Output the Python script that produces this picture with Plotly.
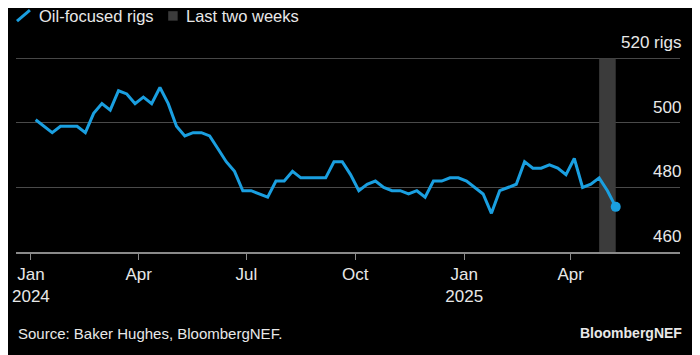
import pandas as pd
import plotly.graph_objects as go

# ---- data ----
dates = pd.date_range("2024-01-05", "2025-05-09", freq="7D")
oil_rigs = [
    501, 499, 497, 499,            # Jan 2024
    499, 499, 497, 503,            # Feb
    506, 504, 510, 509, 506,       # Mar
    508, 506, 511, 506,            # Apr
    499, 496, 497, 497, 496,       # May
    492, 488, 485, 479,            # Jun
    479, 478, 477, 482,            # Jul
    482, 485, 483, 483, 483,       # Aug
    483, 488, 488, 484,            # Sep
    479, 481, 482, 480,            # Oct
    479, 479, 478, 479, 477,       # Nov
    482, 482, 483, 483,            # Dec
    482, 480, 478, 472, 479,       # Jan 2025
    480, 481, 488, 486,            # Feb
    486, 487, 486, 484,            # Mar
    489, 480, 481, 483,            # Apr
    479, 474,                      # May
]
tick_dates = ["2024-01-01", "2024-04-01", "2024-07-01", "2024-10-01", "2025-01-01", "2025-04-01"]
tick_text = ["Jan<br>2024", "Apr", "Jul", "Oct", "Jan<br>2025", "Apr"]
y_ticks = [460, 480, 500, 520]
y_tick_text = ["460", "480", "500", "520 rigs"]
series_name = "Oil-focused rigs"
band_name = "Last two weeks"
source_text = "Source: Baker Hughes, BloombergNEF."
brand_text = "BloombergNEF"

# ---- style ----
BLUE = "#1a9fe0"
BAND = "#3b3b3b"
TEXT = "#e8e8e8"
GRID = "#4a4a4a"
AXIS = "#8a8a8a"
FONT = "Liberation Sans, Arial, Helvetica, sans-serif"

OFF = 8  # default page body margin
W, H = 700 - OFF, 355 - OFF
ML, MR, MT, MB = 12.5 - OFF, 20, 57.5 - OFF, 102.7
PW, PH = W - ML - MR, H - MT - MB


def px(x):  # page pixel -> paper
    return (x - OFF - ML) / PW


def py(y):
    return (H - MB - (y - OFF)) / PH


fig = go.Figure()
fig.add_trace(go.Scatter(
    x=dates, y=oil_rigs, mode="lines", line=dict(color=BLUE, width=3),
    hoverinfo="x+y", showlegend=False,
))
fig.add_trace(go.Scatter(
    x=[dates[-1]], y=[oil_rigs[-1]], mode="markers",
    marker=dict(color=BLUE, size=10), showlegend=False, hoverinfo="skip",
))

shapes = [
    # top gridline
    dict(type="line", xref="paper", yref="y", x0=0, x1=1, y0=y_ticks[-1], y1=y_ticks[-1],
         line=dict(color=GRID, width=1), layer="below"),
    # last two weeks band
    dict(type="rect", xref="x", yref="y", x0=dates[-3], x1=dates[-1], y0=y_ticks[0], y1=y_ticks[-1],
         fillcolor=BAND, line=dict(width=0), layer="between"),
    # legend: line glyph
    dict(type="line", xref="paper", yref="paper", x0=px(13.5), y0=py(20.5), x1=px(26.5), y1=py(9.5),
         line=dict(color=BLUE, width=3)),
    # legend: band glyph
    dict(type="rect", xref="paper", yref="paper", x0=px(165.5), y0=py(20), x1=px(175), y1=py(10.5),
         fillcolor=BAND, line=dict(width=0)),
]

annotations = []
for v, t in zip(y_ticks, y_tick_text):
    annotations.append(dict(
        xref="paper", yref="y", x=1, y=v, xanchor="right", yanchor="bottom",
        text=t, showarrow=False, yshift=4, xshift=3, font=dict(size=17, color=TEXT, family=FONT)))

annotations += [
    dict(xref="paper", yref="paper", x=px(34), y=py(15), xanchor="left", yanchor="middle",
         text=series_name, showarrow=False, font=dict(size=16.5, color=TEXT, family=FONT)),
    dict(xref="paper", yref="paper", x=px(181.5), y=py(15), xanchor="left", yanchor="middle",
         text=band_name, showarrow=False, font=dict(size=16.5, color=TEXT, family=FONT)),
    dict(xref="paper", yref="paper", x=px(12), y=py(334), xanchor="left", yanchor="middle",
         text=source_text, showarrow=False, font=dict(size=15, color=TEXT, family=FONT)),
    dict(xref="paper", yref="paper", x=px(684), y=py(334), xanchor="right", yanchor="middle",
         text="<b>" + brand_text + "</b>", showarrow=False, font=dict(size=14, color=TEXT, family=FONT)),
]

fig.update_layout(
    width=W, height=H,
    margin=dict(l=ML, r=MR, t=MT, b=MB, pad=0),
    paper_bgcolor="#000000", plot_bgcolor="#000000",
    font=dict(family=FONT, color=TEXT, size=16),
    shapes=shapes, annotations=annotations,
    showlegend=False,
    xaxis=dict(
        range=["2023-12-19 10:00", "2025-07-02 07:00"],
        tickmode="array", tickvals=tick_dates, ticktext=tick_text,
        ticks="outside", ticklen=6, tickwidth=1, tickcolor=AXIS,
        showgrid=False, zeroline=False,
        showline=True, linecolor=AXIS, linewidth=1.5,
        tickfont=dict(size=17, color=TEXT, family=FONT),
        fixedrange=True,
    ),
    yaxis=dict(
        range=[460, 520.15], tickmode="array", tickvals=y_ticks,
        showticklabels=False, showgrid=True, gridcolor=GRID, gridwidth=1,
        zeroline=False, showline=False, fixedrange=True,
    ),
)

fig.write_html("out.html")
